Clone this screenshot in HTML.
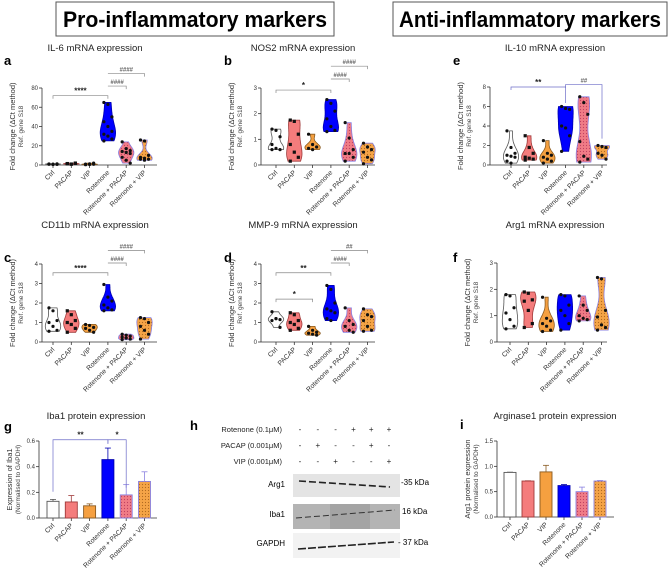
<!DOCTYPE html>
<html><head><meta charset="utf-8"><style>
html,body{margin:0;padding:0;background:#fff;}
svg{display:block;font-family:"Liberation Sans",Arial,sans-serif;}
</style></head><body>
<svg id="fig" width="669" height="569" viewBox="0 0 669 569" xmlns="http://www.w3.org/2000/svg">
<defs>
<pattern id="dotsPink" width="3" height="3" patternUnits="userSpaceOnUse"><rect width="3" height="3" fill="#f07c86"/><circle cx="1.5" cy="1.5" r="0.6" fill="#c04060"/></pattern>
<pattern id="dotsOrange" width="3" height="3" patternUnits="userSpaceOnUse"><rect width="3" height="3" fill="#f5a447"/><circle cx="1.5" cy="1.5" r="0.6" fill="#b06a20"/></pattern>
</defs>
<g>
<rect x="56" y="2" width="278" height="34" fill="#fff" stroke="#555" stroke-width="1"/>
<text x="195" y="27" font-size="22" font-weight="bold" text-anchor="middle" textLength="264" lengthAdjust="spacingAndGlyphs">Pro-inflammatory markers</text>
</g>
<g>
<rect x="393" y="2" width="274" height="34" fill="#fff" stroke="#555" stroke-width="1"/>
<text x="530" y="27" font-size="22" font-weight="bold" text-anchor="middle" textLength="262" lengthAdjust="spacingAndGlyphs">Anti-inflammatory markers</text>
</g>
<g id="panels"></g>
<g>
<text x="190" y="430" font-size="13" font-weight="bold">h</text>
<g font-size="7.5" fill="#222">
<text x="282" y="432" text-anchor="end">Rotenone (0.1μM)</text>
<text x="282" y="448" text-anchor="end">PACAP (0.001μM)</text>
<text x="282" y="464" text-anchor="end">VIP (0.001μM)</text>
</g>
<g id="signs" font-size="8" text-anchor="middle" fill="#222"></g>
<g>
<rect x="293" y="474" width="107" height="23" fill="#e4e4e4"/>
<path d="M299,481 L390,487" stroke="#222" stroke-width="1.6" stroke-dasharray="7,3"/>
<text x="285" y="487" font-size="8" text-anchor="end">Arg1</text>
<text x="401" y="485" font-size="8">-35 kDa</text>
</g>
<g>
<rect x="293" y="504" width="107" height="25" fill="#b4b4b4"/>
<rect x="330" y="504" width="40" height="25" fill="#a4a4a4"/>
<path d="M296,518 L395,510" stroke="#333" stroke-width="1" stroke-dasharray="6,3"/>
<text x="285" y="517" font-size="8" text-anchor="end">Iba1</text>
<text x="402" y="514" font-size="8">16 kDa</text>
</g>
<g>
<rect x="293" y="533" width="107" height="25" fill="#f2f2f2"/>
<path d="M298,549 L394,542" stroke="#222" stroke-width="1.6" stroke-dasharray="8,2"/>
<text x="285" y="546" font-size="8" text-anchor="end">GAPDH</text>
<text x="398" y="545" font-size="8">- 37 kDa</text>
</g>
</g>
</svg>
<script>
// ---------- data ----------
const categories = ["Ctrl","PACAP","VIP","Rotenone","Rotenone + PACAP","Rotenone + VIP"];
const il6Values = [[1,0.5,1.2,0.8,1,0.6,1.1],[1.5,1,2,1.2,0.8,1.7,1.3],[1,0.5,2,0.3,1.2,0.8,0.6],[65,63,50,45,40,35,32,30,27,25],[24,17,15,14,13,12,8,5,2],[26,25,10,8,7,6,6,5]];
const nos2Values = [[1.4,1.35,1.1,0.8,0.65,0.6,0.6],[1.75,1.7,1.2,0.8,0.5,0.3,0.15],[1.2,0.8,0.7,0.65,0.6],[2.55,2.4,2.1,1.8,1.5,1.35,1.3],[1.65,1.05,0.6,0.45,0.45,0.3,0.15],[0.85,0.7,0.6,0.5,0.3,0.2,0.05]];
const cd11bValues = [[1.75,1.6,1.1,1,0.8,0.6,0.55],[1.6,1.4,1.1,1,0.9,0.7,0.5],[0.9,0.85,0.75,0.7,0.6,0.5],[2.95,2.3,2.1,1.9,1.75,1.65,1.6],[0.4,0.35,0.3,0.25,0.2,0.15,0.12],[1.25,1.2,1,0.8,0.6,0.4,0.15]];
const mmp9Values = [[1.55,1.2,1.15,1.1,1.2,0.75],[1.5,1.4,1.1,1,0.9,0.7,0.6],[0.8,0.6,0.5,0.45,0.4,0.35],[2.9,2.7,2,1.7,1.6,1.5,1.2,1.1],[1.75,1.1,0.9,0.8,0.6,0.5],[1.7,1.4,1.3,1.1,0.8,0.6,0.55]];
const il10Values = [[3.5,1.8,1.2,1,0.9,0.8,0.4,0.2],[3,1.8,1.2,0.8,0.7,0.6,0.5],[2.5,1.2,1,0.8,0.6,0.4,0.2],[6,5.8,5.7,4,3.8,3,1.4],[7,6.4,5.2,2.4,0.9,0.6,0.3],[2,1.9,1.8,1.2,1,0.6]];
const arg1Values = [[1.8,1.75,1.3,1.1,0.85,0.6,0.5],[1.9,1.85,1.6,1.55,1.2,0.7,0.55],[1.7,0.9,0.8,0.7,0.6,0.45,0.4],[1.8,1.75,1.4,1.2,1,0.7,0.45],[1.75,1.4,1.2,1,0.9,0.85,0.8],[2.45,2.4,1.2,0.95,0.65,0.55,0.45]];
const iba1Means = [0.13,0.125,0.095,0.455,0.18,0.285];
const iba1Errors = [0.015,0.05,0.015,0.09,0.08,0.075];
const arginaseMeans = [0.88,0.71,0.89,0.62,0.5,0.71];
const arginaseErrors = [0.005,0.005,0.13,0.02,0.09,0.01];
const ticks4 = [0,1,2,3,4];
const ticks3 = [0,1,2,3];
const ticks80 = [0,20,40,60,80];
const ticks8 = [0,2,4,6,8];
const ticksIba = ["0.0","0.2","0.4","0.6"];
const ticksArg = ["0.0","0.5","1.0","1.5"];
const rotenoneSigns = ["-","-","-","+","+","+"];
const pacapSigns = ["-","+","-","-","+","-"];
const vipSigns = ["-","-","+","-","-","+"];

// ---------- styles ----------
const fills = ["#ffffff","#f47c7c","#f5a040","#0000ff","url(#dotsPink)","url(#dotsOrange)"];
const strokes = ["#555","#a03a3a","#8a5a20","#0000b0","#8a80e0","#8a80e0"];
const NS = "http://www.w3.org/2000/svg";
const root = document.getElementById("panels");
function mk(tag, attrs, parent){ const e=document.createElementNS(NS,tag); for(const k in attrs) e.setAttribute(k,attrs[k]); (parent||root).appendChild(e); return e; }
function txt(s, attrs, parent){ const e=mk("text",attrs,parent); e.textContent=s; return e; }

function axes(g, c, tickLabels){
  const yS = v => c.base - (v - 0)/(c.ymax) * (c.base - c.top);
  const xS = i => c.x0 + i*c.step;
  const ax = mk("g",{},g);
  
  
  mk("line",{x1:c.ax,y1:c.top,x2:c.ax,y2:c.base,stroke:"#333","stroke-width":0.8},ax);
  tickLabels.forEach(t=>{ const y=yS(parseFloat(t));
    mk("line",{x1:c.ax-3,y1:y,x2:c.ax,y2:y,stroke:"#333","stroke-width":0.8},ax);
    txt(String(t),{x:c.ax-4,y:y+2,"font-size":6,"text-anchor":"end",fill:"#333"},ax); });
  const xa = mk("g",{},g);
  
  
  mk("line",{x1:c.ax,y1:c.base,x2:c.axEnd,y2:c.base,stroke:"#333","stroke-width":0.8},xa);
  categories.forEach((n,i)=>{ const x=xS(i);
    mk("line",{x1:x,y1:c.base,x2:x,y2:c.base+3,stroke:"#333","stroke-width":0.8},xa);
    const t=txt(n,{x:x+2,y:c.base+8,"font-size":6.8,"text-anchor":"end",fill:"#333",transform:`rotate(-45 ${x+2} ${c.base+8})`},xa);
    
     });
  const tt=txt(c.title,{x:c.tx,y:c.ty,"font-size":9.5,"text-anchor":"middle",fill:"#222"},g);
  
  
  const lt=txt(c.letter,{x:c.lx,y:c.ly,"font-size":13,"font-weight":"bold"},g);
  
  
  const cy=(c.top+c.base)/2;
  const y1=txt(c.yt1,{x:c.ax-27,y:cy,"font-size":7.5,"text-anchor":"middle",fill:"#333",transform:`rotate(-90 ${c.ax-27} ${cy})`},g);
  
  
  const y2=txt(c.yt2,{x:c.ax-19,y:cy,"font-size":6.5,"text-anchor":"middle",fill:"#444",transform:`rotate(-90 ${c.ax-19} ${cy})`},g);
  
  
  return {xS,yS};
}

function brackets(g, c, s, list){
  list.forEach(b=>{ const [i,j,v,label,dl,dr,col]=b; const y=s.yS(v); const x1=s.xS(i), x2=s.xS(j);
    const bg=mk("g",{},g);
    
    
    mk("path",{d:`M${x1},${y+dl} L${x1},${y} L${x2},${y} L${x2},${y+dr}`,fill:"none",stroke:col,"stroke-width":0.7},bg);
    txt(label,{x:(x1+x2)/2,y:y-2,"font-size":label[0]=="#"?6:8,"font-weight":"bold","text-anchor":"middle",fill:label[0]=="#"?"#666":"#222","font-style":label[0]=="#"?"italic":"normal"},bg); });
}

function violinPanel(c, values, tickLabels, br){
  const g=mk("g",{});
  
  
  const s=axes(g,c,tickLabels);
  values.forEach((vals,i)=>{
    const mn=Math.min(...vals), mx=Math.max(...vals), rng=(mx-mn)||1;
    const bw=rng*0.22;
    const dens=y=>vals.reduce((a,v)=>a+Math.exp(-0.5*((y-v)/bw)**2),0);
    const N=30, pts=[]; let dmax=0;
    for(let k=0;k<=N;k++){ const y=mn+rng*k/N; const d=dens(y); pts.push([y,d]); if(d>dmax)dmax=d; }
    const x=s.xS(i), hw=c.step*0.42;
    let d=""; pts.forEach((p,k)=>{ d+=(k?"L":"M")+(x+hw*p[1]/dmax).toFixed(1)+","+s.yS(p[0]).toFixed(1); });
    for(let k=N;k>=0;k--){ const p=pts[k]; d+="L"+(x-hw*p[1]/dmax).toFixed(1)+","+s.yS(p[0]).toFixed(1); }
    const v=mk("path",{d:d+"Z",fill:fills[i],stroke:strokes[i],"stroke-width":0.8},g);
    
    
    vals.forEach((val,k)=>{ const off=((k%3)-1)*c.step*0.22;
      const p = i==1 ? mk("rect",{x:x+off-1.6,y:s.yS(val)-1.6,width:3.2,height:3.2,fill:"#111"},g)
                     : mk("circle",{cx:x+off,cy:s.yS(val),r:1.6,fill:"#111"},g);
      
       });
  });
  brackets(g,c,s,br);
}

function barPanel(c, means, errs, tickLabels, br){
  const g=mk("g",{});
  
  
  const s=axes(g,c,tickLabels);
  means.forEach((m,i)=>{ const x=s.xS(i), w=12;
    const eg=mk("line",{x1:x,y1:s.yS(m),x2:x,y2:s.yS(m+errs[i]),stroke:strokes[i],"stroke-width":0.8},g);
    
    
    const cap=mk("line",{x1:x-3,y1:s.yS(m+errs[i]),x2:x+3,y2:s.yS(m+errs[i]),stroke:strokes[i],"stroke-width":0.8},g);
    
    
    const r=mk("rect",{x:x-w/2,y:s.yS(m),width:w,height:s.yS(0)-s.yS(m),fill:fills[i],stroke:strokes[i],"stroke-width":0.9},g);
    
     });
  brackets(g,c,s,br);
}

const FT="Fold change (ΔCt method)", RG="Ref. gene S18";
const grey="#888", purp="#6c6cc8";
violinPanel({name:"il6-violin-chart",title:"IL-6 mRNA expression",letter:"a",tx:95,ty:51,lx:4,ly:65,ax:42,axEnd:157,x0:53,step:18.3,top:88,base:165,ymax:80,yt1:FT,yt2:RG},
  il6Values,ticks80,[[0,3,72,"****",3,3,grey],[3,4,82,"####",0,3,grey],[3,5,95,"####",0,3,grey]]);
violinPanel({name:"nos2-violin-chart",title:"NOS2 mRNA expression",letter:"b",tx:303,ty:51,lx:224,ly:65,ax:261,axEnd:375,x0:276,step:18.3,top:88,base:165,ymax:3,yt1:FT,yt2:RG},
  nos2Values,ticks3,[[0,3,2.92,"*",3,3,grey],[3,4,3.35,"####",0,3,grey],[3,5,3.85,"####",0,3,grey]]);
violinPanel({name:"il10-violin-chart",title:"IL-10 mRNA expression",letter:"e",tx:555,ty:51,lx:453,ly:65,ax:490,axEnd:607,x0:511,step:18.2,top:87,base:165,ymax:8,yt1:FT,yt2:RG},
  il10Values,ticks8,[[0,3,8,"**",3,16,purp],[3,5,8.25,"##",3,54,purp]]);
violinPanel({name:"cd11b-violin-chart",title:"CD11b mRNA expression",letter:"c",tx:95,ty:228,lx:4,ly:262,ax:42,axEnd:157,x0:53,step:18.3,top:264,base:342,ymax:4,yt1:FT,yt2:RG},
  cd11bValues,ticks4,[[0,3,3.55,"****",3,3,grey],[3,4,4.05,"####",0,3,grey],[3,5,4.7,"####",0,3,grey]]);
violinPanel({name:"mmp9-violin-chart",title:"MMP-9 mRNA expression",letter:"d",tx:303,ty:228,lx:224,ly:262,ax:261,axEnd:375,x0:276,step:18.3,top:264,base:342,ymax:4,yt1:FT,yt2:RG},
  mmp9Values,ticks4,[[0,3,3.55,"**",3,3,grey],[0,2,2.2,"*",3,3,grey],[3,4,4.05,"####",0,3,grey],[3,5,4.7,"##",0,3,grey]]);
violinPanel({name:"arg1-violin-chart",title:"Arg1 mRNA expression",letter:"f",tx:555,ty:228,lx:453,ly:262,ax:497,axEnd:607,x0:510,step:18.3,top:263,base:342,ymax:3,yt1:FT,yt2:RG},
  arg1Values,ticks3,[]);
barPanel({name:"iba1-bar-chart",title:"Iba1 protein expression",letter:"g",tx:96,ty:419,lx:4,ly:431,ax:39,axEnd:157,x0:53,step:18.3,top:441,base:518,ymax:0.6,yt1:"Expression of Iba1",yt2:"(Normalised to GAPDH)"},
  iba1Means,iba1Errors,ticksIba,[[0,3,0.61,"**",52,4,purp],[3,4,0.61,"*",4,48,purp]]);
barPanel({name:"arginase1-bar-chart",title:"Arginase1 protein expression",letter:"i",tx:555,ty:419,lx:460,ly:429,ax:497,axEnd:614,x0:510,step:18,top:441,base:517,ymax:1.5,yt1:"Arg1 protein expression",yt2:"(Normalised to GAPDH)"},
  arginaseMeans,arginaseErrors,ticksArg,[]);

const sg=document.getElementById("signs");
[rotenoneSigns,pacapSigns,vipSigns].forEach((row,r)=>{ row.forEach((s,i)=>{
  const t=document.createElementNS(NS,"text"); t.setAttribute("x",300+i*17.8); t.setAttribute("y",432+r*16); t.textContent=s;
  
  
  sg.appendChild(t); }); });
</script>
</body></html>
